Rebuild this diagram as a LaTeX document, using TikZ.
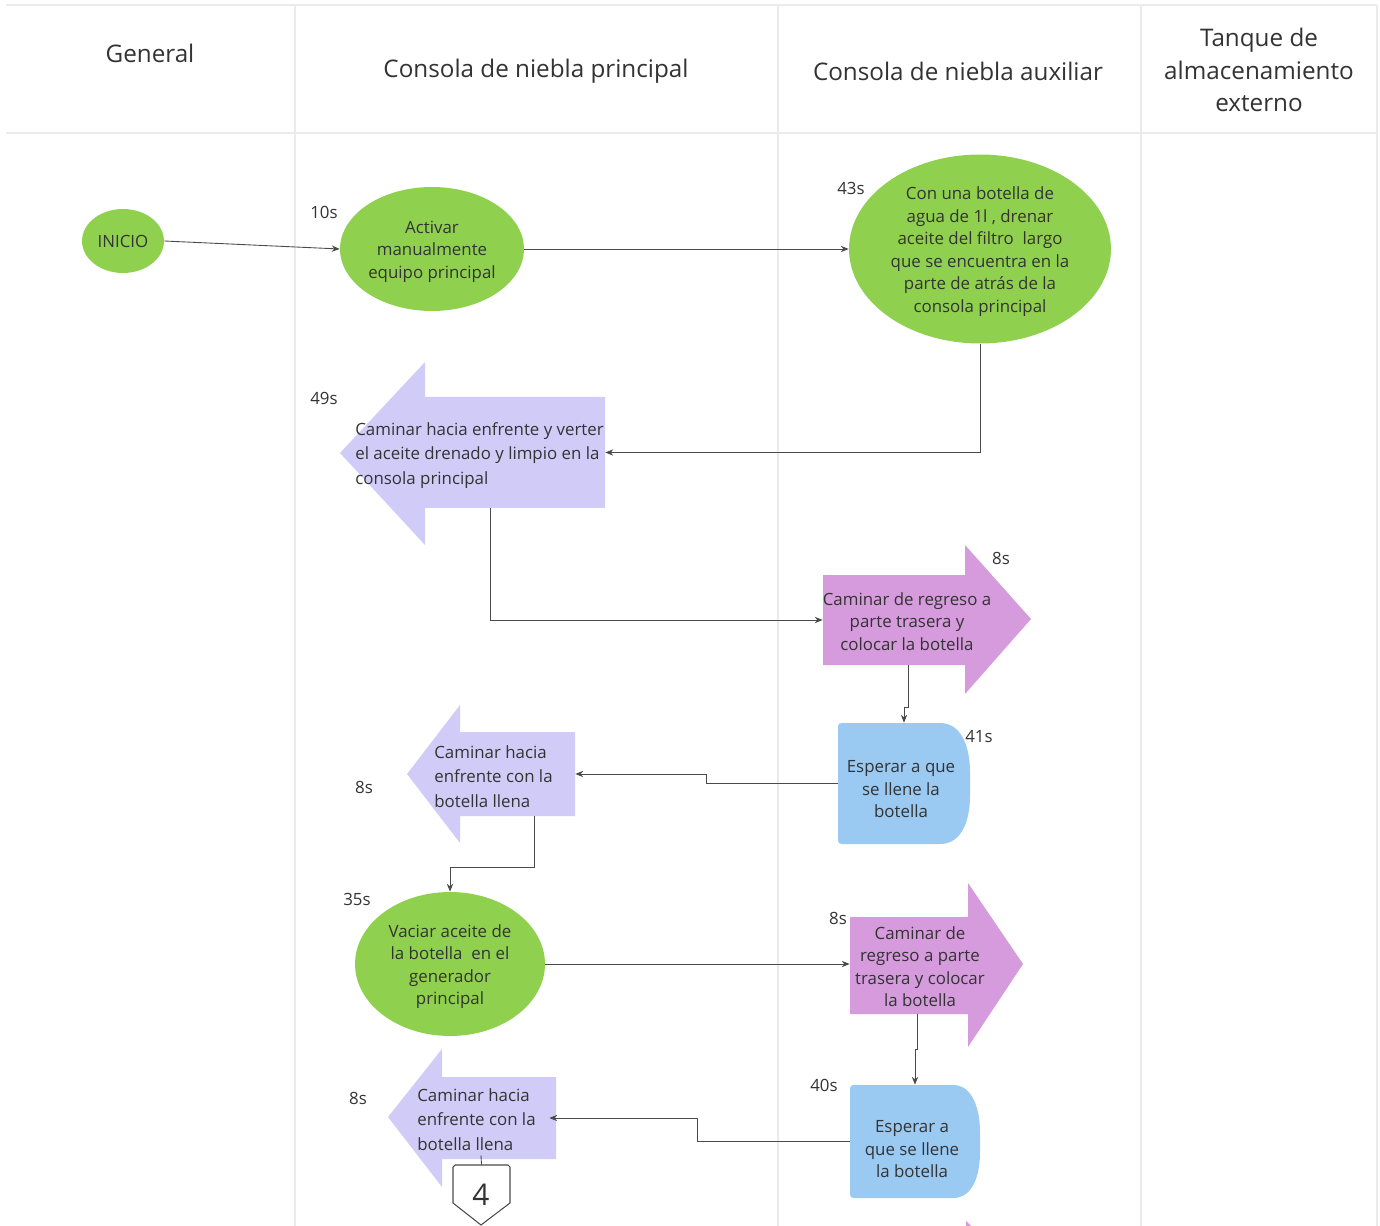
\documentclass[tikz,border=0pt]{standalone}
\usepackage{fontspec}
\setmainfont{Open Sans}
\usetikzlibrary{arrows.meta,shapes.geometric,fit}

\definecolor{lanegray}{HTML}{EBEBEB}
\definecolor{linegray}{HTML}{4A4A4A}
\definecolor{ink}{HTML}{333333}
\definecolor{leaf}{HTML}{8FD14F}
\definecolor{lav}{HTML}{D1CCF7}
\definecolor{orchid}{HTML}{D69BDC}
\definecolor{sky}{HTML}{9AC9F2}

\begin{document}
\begin{tikzpicture}[x=0.02cm,y=-0.02cm,
  lane/.style={draw=lanegray,line width=1.1pt},
  conn/.style={draw=linegray,line width=0.5pt,-{Stealth[length=4.5pt,width=3.6pt]}},
  plainconn/.style={draw=linegray,line width=0.5pt},
  head/.style={font=\fontsize{13.8}{18.7}\selectfont,text=ink,inner sep=0pt,align=center},
  txt/.style={font=\fontsize{9.6}{12.8}\selectfont,text=ink,inner sep=0pt},
  shifted/.style={yshift=-0.05cm},
  walktxt/.style={txt,font=\fontsize{9.6}{13.9}\selectfont,align=left,anchor=west,shifted},
  task/.style={ellipse,fill=leaf,inner sep=0pt,align=center,txt,
    text height=,text depth=},
  body/.style={inner sep=0pt},
  timelbl/.style={txt}
]
\useasboundingbox (0,0) rectangle (1380,1226);
\fill[white] (0,0) rectangle (1380,1226);

% swimlane grid
\draw[lane] (6,5) -- (1377,5);
\draw[lane] (6,133) -- (1377,133);
\foreach \lx in {295,778,1141,1377}
  \draw[lane] (\lx,5) -- (\lx,1226);

% lane headers
\node[head] (hgen) at (150,53) {General};
\node[head] (hpri) at (536,71) {Consola de niebla principal};
\node[head] (haux) at (958,71) {Consola de niebla auxiliar};
\node[head] (htan) at (1259,70) {Tanque de\\almacenamiento\\externo};

% green process steps
\node[task,minimum width=1.64cm,minimum height=1.28cm] (inicio) at (123,241) {INICIO};
\node[task,minimum width=3.68cm,minimum height=2.48cm] (act) at (432,249) {};
\node[txt,align=center,shifted] (tact) at (act) {Activar\\manualmente\\equipo principal};
\node[task,minimum width=5.24cm,minimum height=3.78cm] (drain) at (980,249) {};
\node[txt,align=center,shifted] (tdrain) at (drain)
  {Con una botella de\\agua de 1l , drenar\\aceite del filtro\ \ largo\\que se encuentra en la\\parte de atrás de la\\consola principal};
\node[task,minimum width=3.8cm,minimum height=2.88cm] (empty) at (450,964) {};
\node[txt,align=center,shifted] (tempty) at (empty)
  {Vaciar aceite de\\la botella\ \ en el\\generador\\principal};

% walk forward (left arrows)
\fill[lav] (340,453) -- (425,362) -- (425,397) -- (605,397) -- (605,508) -- (425,508) -- (425,545) -- cycle;
\node[body,fit={(425,397)(605,508)}] (walk1) {};
\node[walktxt] (twalk1) at (355,453) {Caminar hacia enfrente y verter\\el aceite drenado y limpio en la\\consola principal};

\fill[lav] (407,774) -- (460,705) -- (460,732) -- (575,732) -- (575,816) -- (460,816) -- (460,843) -- cycle;
\node[body,fit={(460,732)(575,816)}] (walk2) {};
\node[walktxt] (twalk2) at (434,774) {Caminar hacia\\enfrente con la\\botella llena};

\fill[lav] (388,1117) -- (442,1049) -- (442,1077) -- (556,1077) -- (556,1159) -- (442,1159) -- (442,1187) -- cycle;
\node[body,fit={(442,1077)(556,1159)}] (walk3) {};
\node[walktxt] (twalk3) at (417,1117) {Caminar hacia\\enfrente con la\\botella llena};

% walk back (right arrows)
\fill[orchid] (823,575) -- (965,575) -- (965,545) -- (1031,619) -- (965,694) -- (965,665) -- (823,665) -- cycle;
\node[body,fit={(823,575)(965,665)}] (back1) {};
\node[txt,align=center,shifted] (tback1) at (907,619) {Caminar de regreso a\\parte trasera y\\colocar la botella};

\fill[orchid] (850,917) -- (968,917) -- (968,883) -- (1023,964) -- (968,1047) -- (968,1014) -- (850,1014) -- cycle;
\node[body,fit={(850,917)(968,1014)}] (back2) {};
\node[txt,align=center,shifted] (tback2) at (920,964) {Caminar de\\regreso a parte\\trasera y colocar\\la botella};

% waiting steps (delay shapes)
\fill[sky] (940,844) -- (842,844) .. controls (839,844) and (838,843) .. (838,840) -- (838,727)
  .. controls (838,724) and (839,723) .. (842,723) -- (940,723)
  .. controls (962,723) and (970,748) .. (970,772) -- (970,796)
  .. controls (970,820) and (962,844) .. (940,844) -- cycle;
\node[body,fit={(838,723)(970,844)}] (wait1) {};
\node[txt,align=center,shifted] (twait1) at (901,787) {Esperar a que\\se llene la\\botella};

\fill[sky] (953,1198) -- (854,1198) .. controls (851,1198) and (850,1197) .. (850,1194) -- (850,1089)
  .. controls (850,1086) and (851,1085) .. (854,1085) -- (953,1085)
  .. controls (973,1085) and (980,1110) .. (980,1132) -- (980,1152)
  .. controls (980,1175) and (973,1198) .. (953,1198) -- cycle;
\node[body,fit={(850,1085)(980,1198)}] (wait2) {};
\node[txt,align=center,shifted] (twait2) at (912,1147) {Esperar a\\que se llene\\la botella};

% off-page connector
\filldraw[fill=white,draw=linegray,line width=0.6pt] (455,1165) -- (508,1165) -- (510,1167) -- (510,1203) -- (481,1225) -- (453,1203) -- (453,1167) -- cycle;
\node[body,fit={(453,1165)(510,1225)}] (page4) {};
\node[font=\fontsize{17}{20}\selectfont,text=ink,inner sep=0pt] (tpage4) at (481,1195) {4};

% next step, cut off at the edge
\fill[orchid] (966,1221) -- (971,1226) -- (966,1226) -- cycle;

% durations
\node[timelbl] (d1) at (324,212) {10s};
\node[timelbl] (d2) at (851,188) {43s};
\node[timelbl] (d3) at (324,398) {49s};
\node[timelbl] (d4) at (1001,558) {8s};
\node[timelbl] (d5) at (979,737) {41s};
\node[timelbl] (d6) at (364,787) {8s};
\node[timelbl] (d7) at (357,899) {35s};
\node[timelbl] (d8) at (838,918) {8s};
\node[timelbl] (d9) at (824,1085) {40s};
\node[timelbl] (d10) at (358,1098) {8s};

% flow
\draw[conn] (inicio.east) -- (act.west);
\draw[conn] (act.east) -- (drain.west);
\draw[conn] (drain.south) |- (walk1.east);
\draw[conn] ([xshift=-0.5cm]walk1.south) |- (back1.west);
\draw[conn] ([xshift=0.28cm]back1.south) -- ++(0,42) -| (wait1.north);
\draw[conn] (wait1.west) -- ++(-131,0) |- (walk2.east);
\draw[conn] ([xshift=0.33cm]walk2.south) -- ++(0,51) -| (empty.north);
\draw[conn] (empty.east) -- (empty.east -| back2.west);
\draw[conn] ([xshift=0.16cm]back2.south) -- ++(0,35) -| (wait2.north);
\draw[conn] (wait2.west) -- ++(-152,0) |- ([xshift=-0.14cm]walk3.east);
\draw[plainconn] ([xshift=-0.36cm,yshift=0.08cm]walk3.south) -- (page4.north);
\end{tikzpicture}
\end{document}
